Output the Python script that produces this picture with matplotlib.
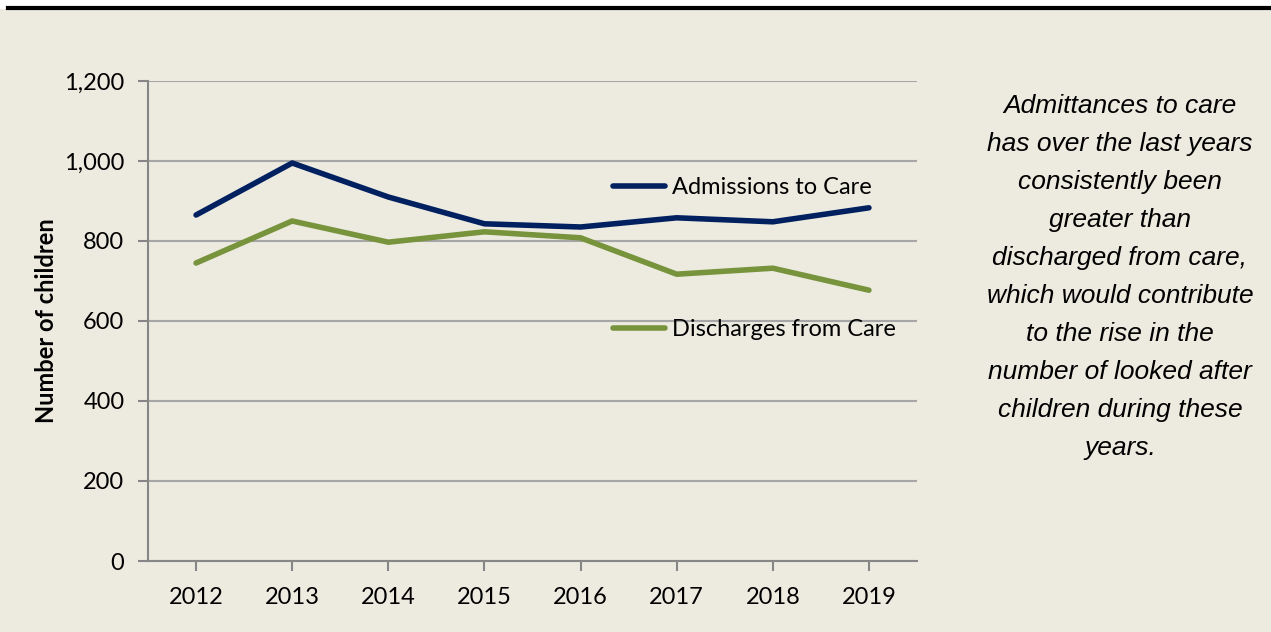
import matplotlib.pyplot as plt
from matplotlib.ticker import FuncFormatter

# datos de ingresos y egresos de niños en cuidado
years = ['2012', '2013', '2014', '2015', '2016', '2017', '2018', '2019']
admissions = [865, 995, 910, 843, 835, 858, 848, 883]
discharges = [745, 850, 797, 823, 808, 717, 732, 677]
y_ticks = [0, 200, 400, 600, 800, 1000, 1200]

note = ("Admittances to care\nhas over the last years\nconsistently been\ngreater than\n"
        "discharged from care,\nwhich would contribute\nto the rise in the\n"
        "number of looked after\nchildren during these\nyears.")

bg = '#EDEAE0'
navy = '#002060'
green = '#77933C'
grid = '#A6A6A6'
axis_col = '#868686'
font = 'Lato'
fs = 17

W, H = 1271, 632
fig = plt.figure(figsize=(W / 100, H / 100), dpi=100, facecolor=bg)

# franja blanca arriba y la línea negra
fig.patches.append(plt.Rectangle((0, 1 - 9 / H), 1, 9 / H, transform=fig.transFigure,
                                 facecolor='white', edgecolor='none', zorder=-1))
fig.add_artist(plt.Line2D([8 / W, 1], [1 - 8 / H, 1 - 8 / H], color='black', lw=3))

ax = fig.add_axes([148 / W, 1 - 561 / H, (917 - 148) / W, (561 - 81) / H])
ax.set_facecolor(bg)

x = range(len(years))
l1, = ax.plot(x, admissions, color=navy, lw=4, solid_capstyle='round', zorder=3)
l2, = ax.plot(x, discharges, color=green, lw=4, solid_capstyle='round', zorder=3)

ax.set_xlim(-0.5, len(years) - 0.5)
ax.set_ylim(0, 1200)
ax.set_xticks(list(x))
ax.set_xticklabels(years)
ax.set_yticks(y_ticks)
ax.yaxis.set_major_formatter(FuncFormatter(lambda v, p: f'{int(v):,}'))
ax.yaxis.grid(True, color=grid, lw=1.5)
ax.set_axisbelow(True)

for s in ['top', 'right']:
    ax.spines[s].set_visible(False)
for s in ['left', 'bottom']:
    ax.spines[s].set_color(axis_col)
    ax.spines[s].set_linewidth(1.5)
ax.tick_params(axis='both', colors=axis_col, width=1.5, length=7, labelcolor='black',
               labelsize=fs)
ax.tick_params(axis='x', pad=12)
ax.tick_params(axis='y', pad=10)
for t in ax.get_xticklabels() + ax.get_yticklabels():
    t.set_family(font)

ax.set_ylabel('Number of children', fontsize=fs, fontweight='bold', family=font,
              labelpad=4)

# leyendas separadas, una por serie
leg_kw = dict(frameon=False, handlelength=2.2, handletextpad=0.3, borderpad=0,
              borderaxespad=0, prop={'family': font, 'size': fs})
leg1 = ax.legend([l1], ['Admissions to Care'], loc='center left',
                 bbox_to_anchor=((613 - 148) / 769, 1 - (188 - 81) / 480), **leg_kw)
ax.add_artist(leg1)
ax.legend([l2], ['Discharges from Care'], loc='center left',
          bbox_to_anchor=((613 - 148) / 769, 1 - (330 - 81) / 480), **leg_kw)

fig.text(1120 / W, 1 - 277 / H, note, ha='center', va='center', style='italic',
         family='Liberation Sans', fontsize=19, linespacing=1.74)

fig.savefig('out.png', dpi=100, facecolor=fig.get_facecolor())
